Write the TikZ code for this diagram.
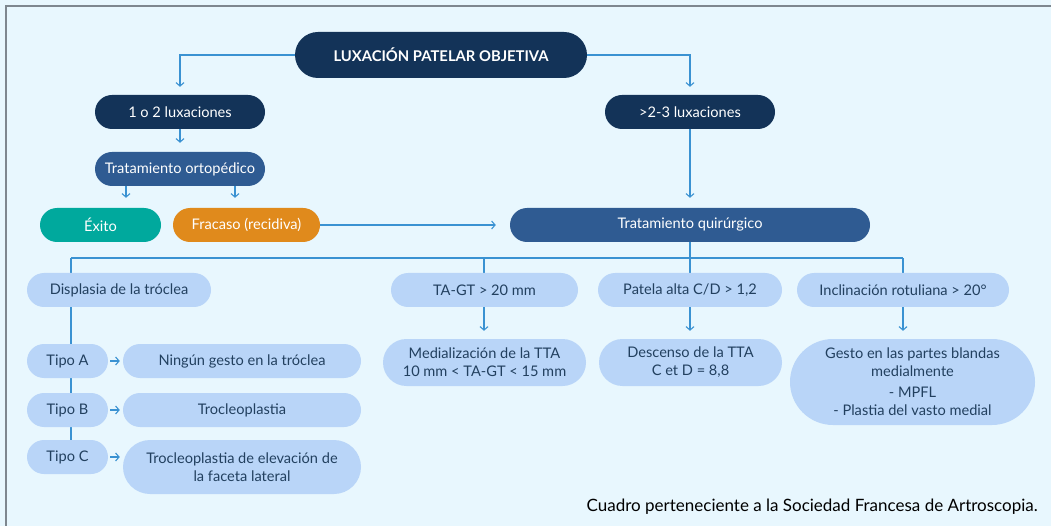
\documentclass[tikz,border=0pt]{standalone}
\usepackage{fontspec}
\setmainfont{Lato}
\usetikzlibrary{arrows.meta,calc,backgrounds}
\pgfdeclarelayer{bottom}
\pgfsetlayers{bottom,background,main}
\definecolor{bgc}{HTML}{E8F7FE}
\definecolor{navy}{HTML}{133358}
\definecolor{midb}{HTML}{2F5B92}
\definecolor{teal}{HTML}{00A99D}
\definecolor{orng}{HTML}{E08A1C}
\definecolor{lightb}{HTML}{B9D5F8}
\definecolor{linec}{HTML}{3A92D2}
\definecolor{darktxt}{HTML}{22405F}
\definecolor{frame}{HTML}{7E878F}
\begin{document}
\begin{tikzpicture}[x=1pt,y=-1pt,
  pill/.style args={#1/#2}{minimum width=#1pt, minimum height=#2pt, inner sep=0pt,
     rounded corners=#2*0.5pt, align=center, font=\fontsize{14.6}{18}\selectfont},
  darkn/.style={fill=navy, text=white},
  midn/.style={fill=midb, text=white},
  lightn/.style={fill=lightb, text=darktxt},
  conn/.style={draw=linec, line width=1.1pt},
  arr/.style={conn, -{Straight Barb[length=3.5pt,width=8pt]}}
]
\begin{pgfonlayer}{bottom}
\fill[bgc] (0,0) rectangle (1051,526);
\end{pgfonlayer}
\useasboundingbox (0,0) rectangle (1051,526);
\draw[frame, line width=1.6pt] (6,526) -- (6,6) -- (1051,6);

% top
\node[pill=292/46, darkn, font=\fontsize{14.8}{16}\selectfont\bfseries] (title) at (441,55) {LUXACIÓN PATELAR OBJETIVA};
\node[pill=170/34, darkn] (l12) at (180,112) {1 o 2 luxaciones};
\node[pill=170/34, darkn] (l23) at (690,112) {>2-3 luxaciones};
\node[pill=170/34, midn] (ortho) at (180,169) {Tratamiento ortopédico};
\node[pill=121/34, fill=teal, text=white] (exito) at (100.5,225) {Éxito};
\node[pill=147/34, fill=orng, text=white] (fracaso) at (246.5,225) {Fracaso (recidiva)};
\node[pill=360/34, midn] (quir) at (690,225) {Tratamiento quirúrgico};

% second level
\node[pill=184/34, lightn] (disp) at (119,290) {Displasia de la tróclea};
\node[pill=187/34, lightn] (tagt) at (484.5,290) {TA-GT > 20 mm};
\node[pill=184/34, lightn] (pat) at (690,290) {Patela alta C/D > 1,2};
\node[pill=212/34, lightn] (inc) at (903,290) {Inclinación rotuliana > 20°};

\node[pill=81/34, lightn] (tA) at (67.5,361) {Tipo A};
\node[pill=81/34, lightn] (tB) at (67.5,410) {Tipo B};
\node[pill=81/34, lightn] (tC) at (67.5,457) {Tipo C};
\node[pill=238/34, lightn] (nA) at (242,361) {Ningún gesto en la tróclea};
\node[pill=238/34, lightn] (nB) at (242,410) {Trocleoplastia};
\node[pill=238/54, lightn] (nC) at (242,467) {Trocleoplastia de elevación de\\la faceta lateral};

\node[pill=203/47, lightn] (med) at (484.5,362.5) {Medialización de la TTA\\10 mm < TA-GT < 15 mm};
\node[pill=183/47, lightn] (desc) at (690.5,362.5) {Descenso de la TTA\\C et D = 8,8};
\node[pill=245/86, lightn] (gest) at (912.5,382) {Gesto en las partes blandas\\medialmente\\[3pt]- MPFL\\- Plastia del vasto medial};

\node[anchor=east, inner sep=0pt, font=\fontsize{17}{18}\selectfont, text=black] (foot) at (1038,507) {Cuadro perteneciente a la Sociedad Francesa de Artroscopia.};

\begin{pgfonlayer}{background}
% connectors top
\draw[arr, shorten >=8pt] (title.west) -| (l12.north);
\draw[arr, shorten >=8pt] (title.east) -| (l23.north);
\draw[arr, shorten >=9pt] (l12.south) -- (ortho.north);
\draw[arr, shorten >=10pt] ([xshift=-54pt]ortho.south) -- ([xshift=-54pt]ortho.south |- exito.north);
\draw[arr, shorten >=10pt] ([xshift=55pt]ortho.south) -- ([xshift=55pt]ortho.south |- fracaso.north);
\draw[arr, shorten >=14pt] (fracaso.east) -- (quir.west);
\draw[arr, shorten >=10pt] (l23.south) -- (quir.north);

% bus
\coordinate (bus) at (690,258);
\coordinate (b1) at (71,258);
\coordinate (b4) at (903,258);
\draw[conn] (quir.south) -- (bus);
\draw[conn] (b1) -- (b4);
\draw[conn] (b1) -- (b1 |- disp.north);
\draw[conn] (tagt.north -| 484,0) -- (bus -| 484,0);
\draw[conn] (pat.north) -- (pat.north |- bus);
\draw[conn] (inc.north) -- (inc.north |- bus);

% displasia branch
\draw[conn] (b1 |- disp.south) -- (b1 |- tC.north);
\draw[arr, shorten <=2pt, shorten >=3pt] (tA.east) -- (nA.west);
\draw[arr, shorten <=2pt, shorten >=3pt] (tB.east) -- (nB.west);
\draw[arr, shorten <=2pt, shorten >=3pt] (tC.east) -- (tC.east -| nC.west);

% other branches
\draw[arr, shorten >=8pt] (tagt.south -| 484,0) -- (med.north -| 484,0);
\draw[arr, shorten >=8pt] (pat.south) -- (pat.south |- desc.north);
\draw[arr, shorten >=8pt] (inc.south) -- (inc.south |- gest.north);
\end{pgfonlayer}
\end{tikzpicture}
\end{document}
